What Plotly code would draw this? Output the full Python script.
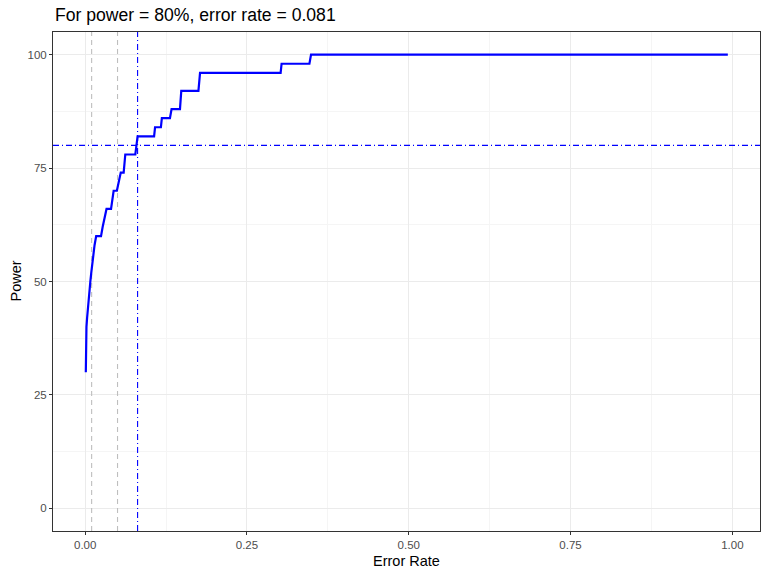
import plotly.graph_objects as go

# Curve vertices (error rate, power %)
error_rate = [0.001, 0.001, 0.002, 0.002, 0.003, 0.004, 0.005, 0.0065, 0.008, 0.0095,
              0.011, 0.0125, 0.0145, 0.017, 0.0245, 0.027, 0.030, 0.033, 0.040, 0.042,
              0.044, 0.049, 0.052, 0.055, 0.0595, 0.061, 0.062, 0.0775, 0.079, 0.081,
              0.1065, 0.108, 0.117, 0.1185, 0.131, 0.1335, 0.1465, 0.148, 0.1485, 0.175,
              0.1775, 0.302, 0.3035, 0.3465, 0.349, 0.993]
power = [30, 34, 34, 40, 42, 44, 46, 48, 50, 52,
         54, 56, 58, 60, 60, 62, 64, 66, 66, 68,
         70, 70, 72, 74, 74, 76, 78, 78, 80, 82,
         82, 84, 84, 86, 86, 88, 88, 90, 92, 92,
         96, 96, 98, 98, 100, 100]

ref_rates = [0.01, 0.05]
target_power = 80
target_rate = 0.081

x_ticks = [0.0, 0.25, 0.5, 0.75, 1.0]
x_tick_labels = ["0.00", "0.25", "0.50", "0.75", "1.00"]
y_ticks = [0, 25, 50, 75, 100]
y_tick_labels = ["0", "25", "50", "75", "100"]

x_range = [-0.0497, 1.0427]
y_range = [-5, 105]

fig = go.Figure()

for r in ref_rates:
    fig.add_trace(go.Scatter(x=[r, r], y=y_range, mode="lines",
                             line=dict(color="#BEBEBE", width=1.1, dash="5px,4px"),
                             hoverinfo="skip", showlegend=False))

fig.add_trace(go.Scatter(x=[target_rate, target_rate], y=y_range, mode="lines",
                         line=dict(color="blue", width=1.1, dash="6px,3px,1px,3px"),
                         hoverinfo="skip", showlegend=False))
fig.add_trace(go.Scatter(x=x_range, y=[target_power, target_power], mode="lines",
                         line=dict(color="blue", width=1.1, dash="6px,3px,1px,3px"),
                         hoverinfo="skip", showlegend=False))

fig.add_trace(go.Scatter(x=error_rate, y=power, mode="lines",
                         line=dict(color="#0000FF", width=2.2),
                         showlegend=False))

font_family = "Liberation Sans, Arial, sans-serif"

fig.update_layout(
    width=768, height=576,
    margin=dict(l=53, r=8, t=32, b=45),
    paper_bgcolor="white", plot_bgcolor="white",
    font=dict(family=font_family),
    showlegend=False,
    xaxis=dict(range=x_range, tickvals=x_ticks, ticktext=x_tick_labels,
               automargin=False,
               showgrid=True, gridcolor="#EBEBEB", gridwidth=1.1,
               minor=dict(tickvals=[0.125, 0.375, 0.625, 0.875], showgrid=True,
                          gridcolor="#F5F5F5", gridwidth=0.6),
               ticks="outside", ticklen=3, tickcolor="#333333", tickwidth=1,
               tickfont=dict(size=11.5, color="#4D4D4D", family=font_family),
               showline=True, linecolor="#333333", linewidth=1, mirror=True,
               zeroline=False),
    yaxis=dict(range=y_range, tickvals=y_ticks, ticktext=y_tick_labels,
               automargin=False,
               showgrid=True, gridcolor="#EBEBEB", gridwidth=1.1,
               minor=dict(tickvals=[12.5, 37.5, 62.5, 87.5], showgrid=True,
                          gridcolor="#F5F5F5", gridwidth=0.6),
               ticks="outside", ticklen=3, tickcolor="#333333", tickwidth=1,
               tickfont=dict(size=11.5, color="#4D4D4D", family=font_family),
               showline=True, linecolor="#333333", linewidth=1, mirror=True,
               zeroline=False),
    annotations=[
        dict(text="For power = 80%, error rate = 0.081", xref="paper", yref="paper",
             x=0, y=1 + 17/499, xanchor="left", yanchor="middle", showarrow=False,
             font=dict(size=17.6, color="black", family=font_family)),
        dict(text="Error Rate", xref="paper", yref="paper",
             x=0.5, y=-30/499, xanchor="center", yanchor="middle", showarrow=False,
             font=dict(size=14.5, color="black", family=font_family)),
        dict(text="Power", xref="paper", yref="paper",
             x=-38/707, y=0.5, xanchor="center", yanchor="middle", showarrow=False,
             textangle=-90,
             font=dict(size=14.5, color="black", family=font_family)),
    ],
)

fig.write_html("out.html", config={"displayModeBar": False},
               post_script="document.body.style.margin='0';")
